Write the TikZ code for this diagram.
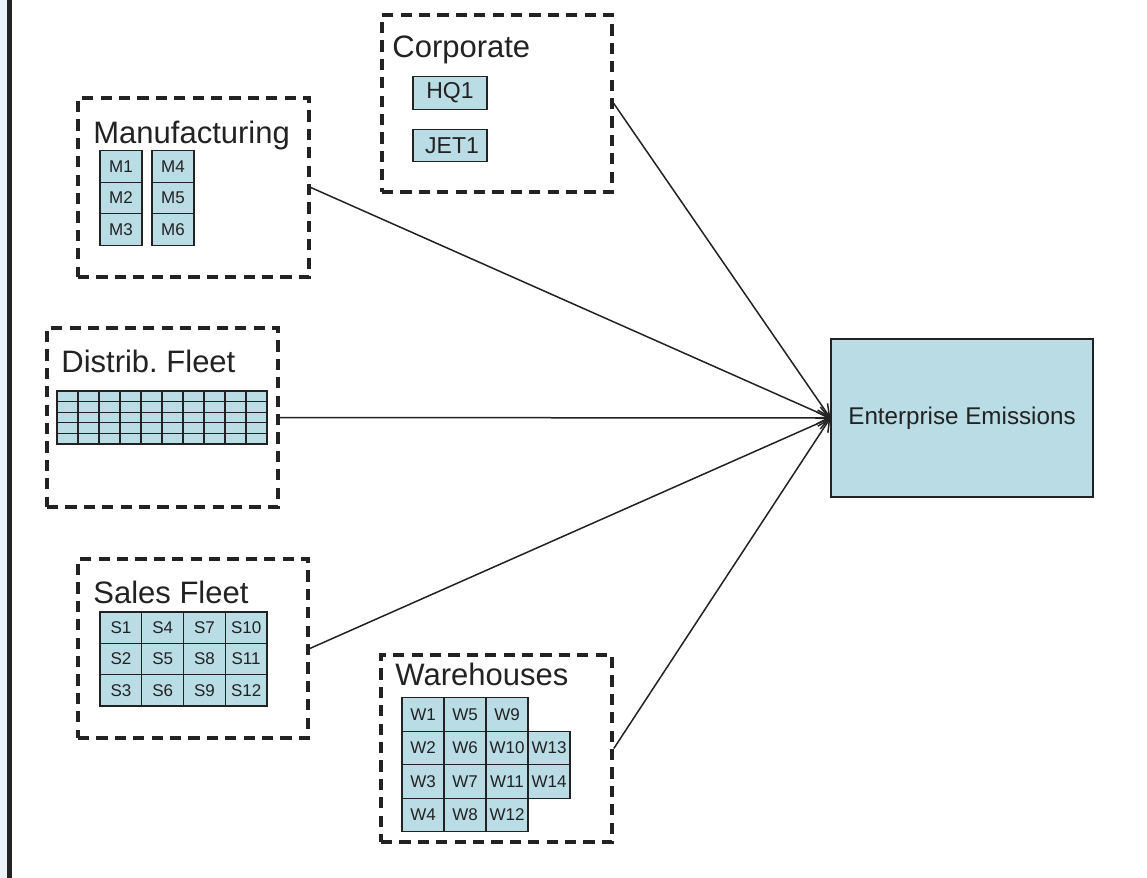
\documentclass[tikz,border=0pt]{standalone}
\usepackage{fontspec}
\setmainfont{Liberation Sans}
\usetikzlibrary{arrows.meta}
\definecolor{cellblue}{HTML}{B9DCE5}
\definecolor{inkdark}{HTML}{222222}
\definecolor{edgestrip}{HTML}{EDF1FA}
\tikzset{
  group/.style={draw=inkdark, line width=1.8pt, dash pattern=on 5.6pt off 3.6pt,
    inner sep=0pt, minimum width=#1},
  grouptitle/.style={anchor=base west, inner sep=0pt, font=\fontsize{15.5}{18}\selectfont, text=inkdark},
  cell/.style={draw=inkdark, fill=cellblue, line width=0.65pt, inner sep=0pt,
    minimum width=21pt, minimum height=15.7pt, font=\fontsize{8.5}{10}\selectfont, text=inkdark},
  tinycell/.style={draw=inkdark, fill=cellblue, line width=0.55pt, inner sep=0pt,
    minimum width=10.5pt, minimum height=5.3pt},
  bigcell/.style={draw=inkdark, fill=cellblue, line width=0.65pt, inner sep=0pt,
    minimum width=37pt, minimum height=16.3pt, font=\fontsize{11.5}{14}\selectfont, text=inkdark},
  conn/.style={draw=inkdark, line width=0.75pt, -{Straight Barb[length=6pt,width=6pt,line width=0.75pt]}}
}
\begin{document}
\begin{tikzpicture}[x=0.5pt,y=-0.5pt]
  \useasboundingbox (0,0) rectangle (1147,878);
  % page edge
  \fill[edgestrip] (0,0) rectangle (7,878);
  \fill[inkdark] (7,0) rectangle (12,878);

  % group frames
  \node[group=115.5pt, minimum height=89.5pt] (mfg) at (193.5,187.5) {};
  \node[group=115.5pt, minimum height=89.5pt] (dist) at (162.5,417.5) {};
  \node[group=115pt, minimum height=89.5pt] (sales) at (193,648.5) {};
  \node[group=115.5pt, minimum height=93.5pt] (wh) at (496.5,748.5) {};
  \node[group=115pt, minimum height=88.5pt] (corp) at (497,103.5) {};

  % titles
  \node[grouptitle] (mfgtitle) at (93,143) {Manufacturing};
  \node[grouptitle] (disttitle) at (61,372) {Distrib.\ Fleet};
  \node[grouptitle] (salestitle) at (93,603) {Sales Fleet};
  \node[grouptitle] (whtitle) at (395,685) {Warehouses};
  \node[grouptitle] (corptitle) at (392,57) {Corporate};

  % corporate sites
  \node[bigcell] (hq1) at (450,93) {HQ1};
  \node[bigcell] (jet1) at (450,145.5) {\hspace*{2pt}JET1};

  % manufacturing plants
  \foreach \c/\x in {0/121,1/173}
    \foreach \r/\y in {1/166.5,2/198,3/229.5}
      {\pgfmathtruncatemacro{\n}{\c*3+\r}
       \node[cell] (m\n) at (\x,\y) {M\n};}

  % distribution fleet vehicles
  \foreach \c in {0,...,9}
    \foreach \r in {0,...,4}
      \node[tinycell] (d\c-\r) at ({67.5+21*\c},{396.3+10.6*\r}) {};

  % sales fleet vehicles
  \foreach \c in {0,...,3}
    \foreach \r in {1,2,3}
      {\pgfmathtruncatemacro{\n}{\c*3+\r}
       \node[cell, minimum width=20.9pt] (s\n) at ({120.9+41.75*\c},{596.3+31.33*\r}) {S\n};}

  % warehouses
  \foreach \c in {0,1,2}
    \foreach \r in {1,...,4}
      {\pgfmathtruncatemacro{\n}{\c*4+\r}
       \node[cell, minimum height=16.75pt] (w\n) at ({423+42*\c},{681+33.5*\r}) {W\n};}
  \node[cell, minimum height=16.75pt] (w13) at (549,748) {W13};
  \node[cell, minimum height=16.75pt] (w14) at (549,781.5) {W14};

  % total
  \node[draw=inkdark, fill=cellblue, line width=0.65pt, inner sep=0pt,
        minimum width=131pt, minimum height=79pt,
        font=\fontsize{12.1}{14}\selectfont, text=inkdark] (ent) at (962,418) {Enterprise Emissions};

  % roll-up connectors
  \draw[conn] (corp.east) -- (ent.west);
  \draw[conn] (mfg.east) -- (ent.west);
  \draw[conn] (dist.east) -- (ent.west);
  \draw[conn] (sales.east) -- (ent.west);
  \draw[conn] (wh.east) -- (ent.west);
\end{tikzpicture}
\end{document}
